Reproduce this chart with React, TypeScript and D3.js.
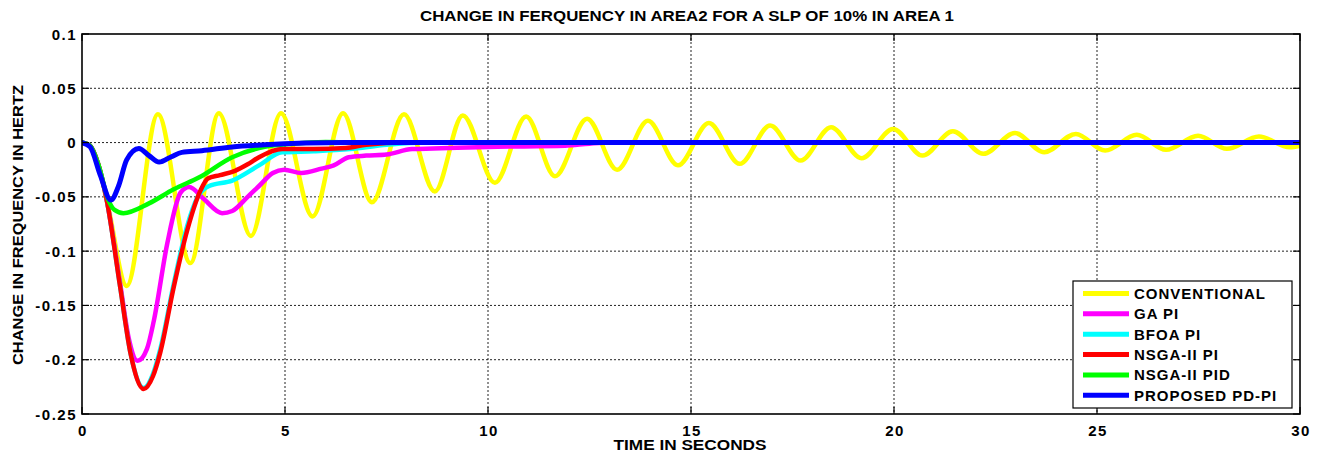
import React from "react";
import * as d3 from "d3";

const title = "CHANGE IN FERQUENCY IN AREA2 FOR A SLP OF 10% IN AREA 1";
const xLabel = "TIME IN SECONDS";
const yLabel = "CHANGE IN FREQUENCY IN HERTZ";

const xTicks = [0, 5, 10, 15, 20, 25, 30];
const xTickLabels = ["0", "5", "10", "15", "20", "25", "30"];
const yTicks = [0.1, 0.05, 0, -0.05, -0.1, -0.15, -0.2, -0.25];
const yTickLabels = ["0.1", "0.05", "0", "-0.05", "-0.1", "-0.15", "-0.2", "-0.25"];

const seriesNames = ["CONVENTIONAL", "GA PI", "BFOA PI", "NSGA-II PI", "NSGA-II PID", "PROPOSED PD-PI"];
const seriesColors = ["#ffff00", "#ff00ff", "#00ffff", "#ff0000", "#00ff00", "#0000ff"];

const conventional: [number, number][] = [
  [0, 0], [0.2, -0.003], [0.4, -0.02], [0.65, -0.06], [1.1, -0.132], [1.87, 0.026],
  [2.67, -0.111], [3.37, 0.027], [4.16, -0.086], [4.9, 0.027], [5.68, -0.068],
  [6.43, 0.027], [7.14, -0.055], [7.93, 0.026], [8.69, -0.045], [9.38, 0.025],
  [10.17, -0.037], [10.94, 0.024], [11.65, -0.031], [12.44, 0.022], [13.18, -0.025],
  [13.94, 0.02], [14.68, -0.021], [15.44, 0.018], [16.2, -0.0196], [16.95, 0.0157],
  [17.7, -0.0166], [18.45, 0.0141], [19.2, -0.0144], [19.98, 0.0126], [20.7, -0.012],
  [21.45, 0.0104], [22.2, -0.0104], [22.98, 0.0088], [23.7, -0.0089], [24.48, 0.008],
  [25.2, -0.0074], [25.98, 0.0071], [26.7, -0.0067], [27.49, 0.0062], [28.2, -0.0058],
  [28.99, 0.0055], [29.75, -0.0043], [30, -0.003],
];

const gaPI: [number, number][] = [
  [0, 0], [0.2, -0.003], [0.4, -0.02], [0.61, -0.053], [0.94, -0.13], [1.15, -0.18],
  [1.37, -0.201], [1.6, -0.19], [1.77, -0.164], [2.1, -0.093], [2.43, -0.046],
  [2.64, -0.041], [3.0, -0.052], [3.45, -0.065], [3.7, -0.063], [4.08, -0.05], [4.36, -0.04],
  [4.7, -0.028], [4.98, -0.025], [5.4, -0.028], [5.9, -0.024], [6.2, -0.021], [6.57, -0.0135],
  [7.0, -0.012], [7.5, -0.011], [8.13, -0.006], [8.65, -0.0055], [10, -0.004],
  [11.9, -0.003], [12.5, -0.001], [13, 0], [30, 0],
];

const bfoaPI: [number, number][] = [
  [0, 0], [0.2, -0.003], [0.4, -0.02], [0.61, -0.053], [0.94, -0.133], [1.2, -0.195],
  [1.52, -0.226], [1.75, -0.213], [1.93, -0.19], [2.26, -0.13], [2.59, -0.077],
  [2.85, -0.05], [3.13, -0.04], [3.7, -0.035], [4.36, -0.021], [4.93, -0.009],
  [5.7, -0.008], [6.6, -0.006], [7.5, -0.002], [8.5, 0], [30, 0],
];

const nsgaPI: [number, number][] = [
  [0, 0], [0.2, -0.003], [0.4, -0.02], [0.61, -0.053], [0.94, -0.133], [1.2, -0.195],
  [1.52, -0.227], [1.75, -0.215], [1.93, -0.193], [2.26, -0.133], [2.59, -0.081],
  [2.92, -0.044], [3.1, -0.033], [3.4, -0.03], [3.77, -0.026], [4.08, -0.02],
  [4.36, -0.0135], [4.93, -0.006], [5.7, -0.006], [6.5, -0.005], [7.0, -0.002],
  [8, 0], [30, 0],
];

const nsgaPID: [number, number][] = [
  [0, 0], [0.2, -0.003], [0.4, -0.02], [0.65, -0.053], [0.8, -0.062], [1.02, -0.065],
  [1.65, -0.056], [2.26, -0.043], [2.89, -0.032], [3.7, -0.0135], [4.5, -0.004],
  [5.2, -0.001], [6, 0.0005], [7, 0], [30, 0],
];

const proposedPDPI: [number, number][] = [
  [0, 0], [0.2, -0.004], [0.45, -0.03], [0.71, -0.053], [0.9, -0.04], [1.1, -0.016],
  [1.4, -0.0055], [1.65, -0.012], [1.9, -0.018], [2.2, -0.013], [2.46, -0.009],
  [2.95, -0.0075], [3.7, -0.004], [4.5, -0.002], [5.5, -0.0005], [6.5, 0], [30, 0],
];

const allSeries = [conventional, gaPI, bfoaPI, nsgaPI, nsgaPID, proposedPDPI];

const W = 1323;
const H = 456;
const plot = { left: 82, right: 1300, top: 34, bottom: 414 };
const FONT = "'Liberation Sans', Arial, sans-serif";

export default function App() {
  const x = d3.scaleLinear().domain([0, 30]).range([plot.left, plot.right]);
  const y = d3.scaleLinear().domain([-0.25, 0.1]).range([plot.bottom, plot.top]);
  const line = d3
    .line<[number, number]>()
    .x((d) => x(d[0]))
    .y((d) => y(d[1]))
    .curve(d3.curveMonotoneX);

  const legend = { x: 1073, y: 281, w: 219, h: 127, row0: 293.5, dy: 20.35 };

  return (
    <svg
      width={W}
      height={H}
      style={{ position: "absolute", left: 0, top: 0, background: "#fff" }}
      fontFamily={FONT}
    >
      <rect x={0} y={0} width={W} height={H} fill="#fff" />
      <defs>
        <clipPath id="plotclip">
          <rect x={plot.left} y={plot.top} width={plot.right - plot.left} height={plot.bottom - plot.top} />
        </clipPath>
      </defs>
      {/* grid */}
      {xTicks.slice(1, -1).map((t) => (
        <line key={"gx" + t} x1={x(t)} x2={x(t)} y1={plot.top} y2={plot.bottom} stroke="#222" strokeWidth={1} strokeDasharray="2,2" />
      ))}
      {yTicks.slice(1, -1).map((t) => (
        <line key={"gy" + t} x1={plot.left} x2={plot.right} y1={y(t)} y2={y(t)} stroke="#222" strokeWidth={1} strokeDasharray="2,2" />
      ))}
      {/* series */}
      <g clipPath="url(#plotclip)">
        {allSeries.map((s, i) => (
          <path key={i} d={line(s) || ""} fill="none" stroke={seriesColors[i]} strokeWidth={i === 5 ? 5 : 4.5} strokeLinejoin="round" strokeLinecap="round" />
        ))}
      </g>
      {/* ticks */}
      {xTicks.map((t) => (
        <g key={"tx" + t}>
          <line x1={x(t)} x2={x(t)} y1={plot.bottom} y2={plot.bottom - 7} stroke="#000" strokeWidth={1.2} />
          <line x1={x(t)} x2={x(t)} y1={plot.top} y2={plot.top + 7} stroke="#000" strokeWidth={1.2} />
        </g>
      ))}
      {yTicks.map((t) => (
        <g key={"ty" + t}>
          <line x1={plot.left} x2={plot.left + 7} y1={y(t)} y2={y(t)} stroke="#000" strokeWidth={1.2} />
          <line x1={plot.right} x2={plot.right - 7} y1={y(t)} y2={y(t)} stroke="#000" strokeWidth={1.2} />
        </g>
      ))}
      <rect x={plot.left} y={plot.top} width={plot.right - plot.left} height={plot.bottom - plot.top} fill="none" stroke="#000" strokeWidth={1.6} />
      {/* tick labels */}
      {xTicks.map((t, i) => (
        <text key={"lx" + t} x={x(t) + 1} y={436} textAnchor="middle" fontSize={15} fontWeight="bold" letterSpacing={1.5} fill="#000">
          {xTickLabels[i]}
        </text>
      ))}
      {yTicks.map((t, i) => (
        <text key={"ly" + t} x={77} y={y(t) + 5.5} textAnchor="end" fontSize={15} fontWeight="bold" letterSpacing={1.5} fill="#000">
          {yTickLabels[i]}
        </text>
      ))}
      {/* titles */}
      <text x={687} y={21} textAnchor="middle" fontSize={14} fontWeight="bold" textLength={534} lengthAdjust="spacingAndGlyphs" fill="#000">
        {title}
      </text>
      <text x={690} y={450} textAnchor="middle" fontSize={14} fontWeight="bold" textLength={153} lengthAdjust="spacingAndGlyphs" fill="#000">
        {xLabel}
      </text>
      <text
        transform={`translate(23,${225}) rotate(-90)`}
        textAnchor="middle"
        fontSize={15}
        fontWeight="bold"
        textLength={280}
        lengthAdjust="spacingAndGlyphs"
        fill="#000"
      >
        {yLabel}
      </text>
      {/* legend */}
      <rect x={legend.x} y={legend.y} width={legend.w} height={legend.h} fill="#fff" stroke="#000" strokeWidth={1.2} />
      {seriesNames.map((name, i) => {
        const cy = legend.row0 + i * legend.dy;
        return (
          <g key={name}>
            <line x1={1083} x2={1129} y1={cy} y2={cy} stroke={seriesColors[i]} strokeWidth={5} />
            <text x={1134} y={cy + 5.5} fontSize={15} fontWeight="bold" letterSpacing={1} fill="#000">
              {name}
            </text>
          </g>
        );
      })}
    </svg>
  );
}
